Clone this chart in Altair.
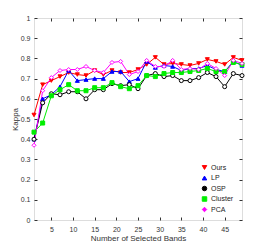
import altair as alt
import pandas as pd

bands = [1, 3, 5, 7, 9, 11, 13, 15, 17, 19, 21, 23, 25, 27, 29, 31, 33, 35, 37, 39, 41, 43, 45, 47, 49]
ours = [0.52, 0.67, 0.69, 0.71, 0.73, 0.72, 0.715, 0.74, 0.72, 0.74, 0.73, 0.73, 0.745, 0.77, 0.805, 0.77, 0.775, 0.77, 0.765, 0.775, 0.795, 0.785, 0.77, 0.805, 0.79]
lp = [0.40, 0.60, 0.62, 0.66, 0.74, 0.69, 0.695, 0.70, 0.70, 0.735, 0.735, 0.685, 0.70, 0.785, 0.755, 0.765, 0.76, 0.74, 0.75, 0.75, 0.765, 0.745, 0.735, 0.785, 0.765]
osp = [0.40, 0.58, 0.625, 0.62, 0.635, 0.635, 0.60, 0.645, 0.645, 0.675, 0.665, 0.67, 0.65, 0.715, 0.725, 0.71, 0.715, 0.69, 0.69, 0.705, 0.73, 0.71, 0.66, 0.725, 0.715]
cluster = [0.435, 0.48, 0.615, 0.645, 0.67, 0.64, 0.64, 0.655, 0.655, 0.68, 0.66, 0.65, 0.665, 0.715, 0.71, 0.725, 0.73, 0.73, 0.735, 0.74, 0.75, 0.735, 0.735, 0.78, 0.77]
pca = [0.37, 0.64, 0.705, 0.74, 0.745, 0.745, 0.76, 0.74, 0.73, 0.78, 0.785, 0.72, 0.735, 0.79, 0.76, 0.76, 0.79, 0.745, 0.75, 0.745, 0.775, 0.75, 0.715, 0.79, 0.775]

series = ["Ours", "LP", "OSP", "Cluster", "PCA"]
colors = ["#ff0000", "#0000ff", "#000000", "#00ee00", "#ff00ff"]
shapes = ["triangle-down", "triangle-up", "circle", "square", "diamond"]

rows = []
for name, vals in zip(series, [ours, lp, osp, cluster, pca]):
    for b, v in zip(bands, vals):
        rows.append({"band": b, "kappa": v, "method": name})
df = pd.DataFrame(rows)

font = "Liberation Sans"
xticks = [5, 10, 15, 20, 25, 30, 35, 40, 45]
yticks = [i / 10 for i in range(11)]
xscale = alt.Scale(domain=[1, 49], nice=False, zero=False)
yscale = alt.Scale(domain=[0, 1], nice=False)
cscale = alt.Scale(domain=series, range=colors)
color = alt.Color("method:N", scale=cscale,
                  legend=alt.Legend(title=None, orient="none", legendX=167, legendY=146,
                                    labelFont=font, labelFontSize=7, labelColor="#222",
                                    symbolSize=20, rowPadding=1.5, symbolStrokeWidth=1,
                                    labelOffset=3))
shape = alt.Shape("method:N", scale=alt.Scale(domain=series, range=shapes), legend=None)

xaxis = alt.Axis(values=xticks, title="Number of Selected Bands",
                 grid=False, domain=False, offset=-3, tickSize=3, labelPadding=5,
                 labelFont=font, labelFontSize=7, labelColor="#333", tickColor="#333",
                 titleFont=font, titleFontSize=8, titleFontWeight="normal", titleColor="#333", titlePadding=2)
yaxis = alt.Axis(values=yticks, title="Kappa", grid=False, domain=False,
                 offset=-3, tickSize=3, labelPadding=4, format="~g",
                 labelFont=font, labelFontSize=7, labelColor="#333", tickColor="#333",
                 titleFont=font, titleFontSize=8, titleFontWeight="normal", titleColor="#333", titlePadding=1)

base = alt.Chart(df)
lines = base.mark_line(strokeWidth=1).encode(
    x=alt.X("band:Q", scale=xscale, axis=xaxis),
    y=alt.Y("kappa:Q", scale=yscale, axis=yaxis),
    color=color,
)
points = base.mark_point(size=16, strokeWidth=1, opacity=1).encode(
    x=alt.X("band:Q", scale=xscale, axis=None),
    y=alt.Y("kappa:Q", scale=yscale, axis=None),
    color=color,
    shape=shape,
    fill=alt.condition(alt.FieldOneOfPredicate(field="method", oneOf=["Ours", "LP", "Cluster"]),
                       alt.Color("method:N", scale=cscale, legend=None),
                       alt.value("white")),
)

mirror_x = alt.Axis(values=xticks, labels=False, title=None, grid=False,
                    domain=False, offset=-3, tickSize=3, tickColor="#333", orient="top")
mirror_y = alt.Axis(values=yticks, labels=False, title=None, grid=False,
                    domain=False, offset=-3, tickSize=3, tickColor="#333", orient="right")
mirror = base.mark_point(opacity=0).encode(
    x=alt.X("band:Q", scale=xscale, axis=mirror_x),
    y=alt.Y("kappa:Q", scale=yscale, axis=mirror_y),
)

chart = alt.layer(lines, points, mirror).resolve_axis(x="independent", y="independent").properties(
    width=208, height=202,
    padding={"left": 26, "top": 10, "right": 15, "bottom": 28},
    autosize=alt.AutoSizeParams(type="none"),
).configure_view(stroke="#555", strokeWidth=0.8).configure(background="white")

chart.save("out.html", embed_options={"renderer": "svg", "actions": False})
